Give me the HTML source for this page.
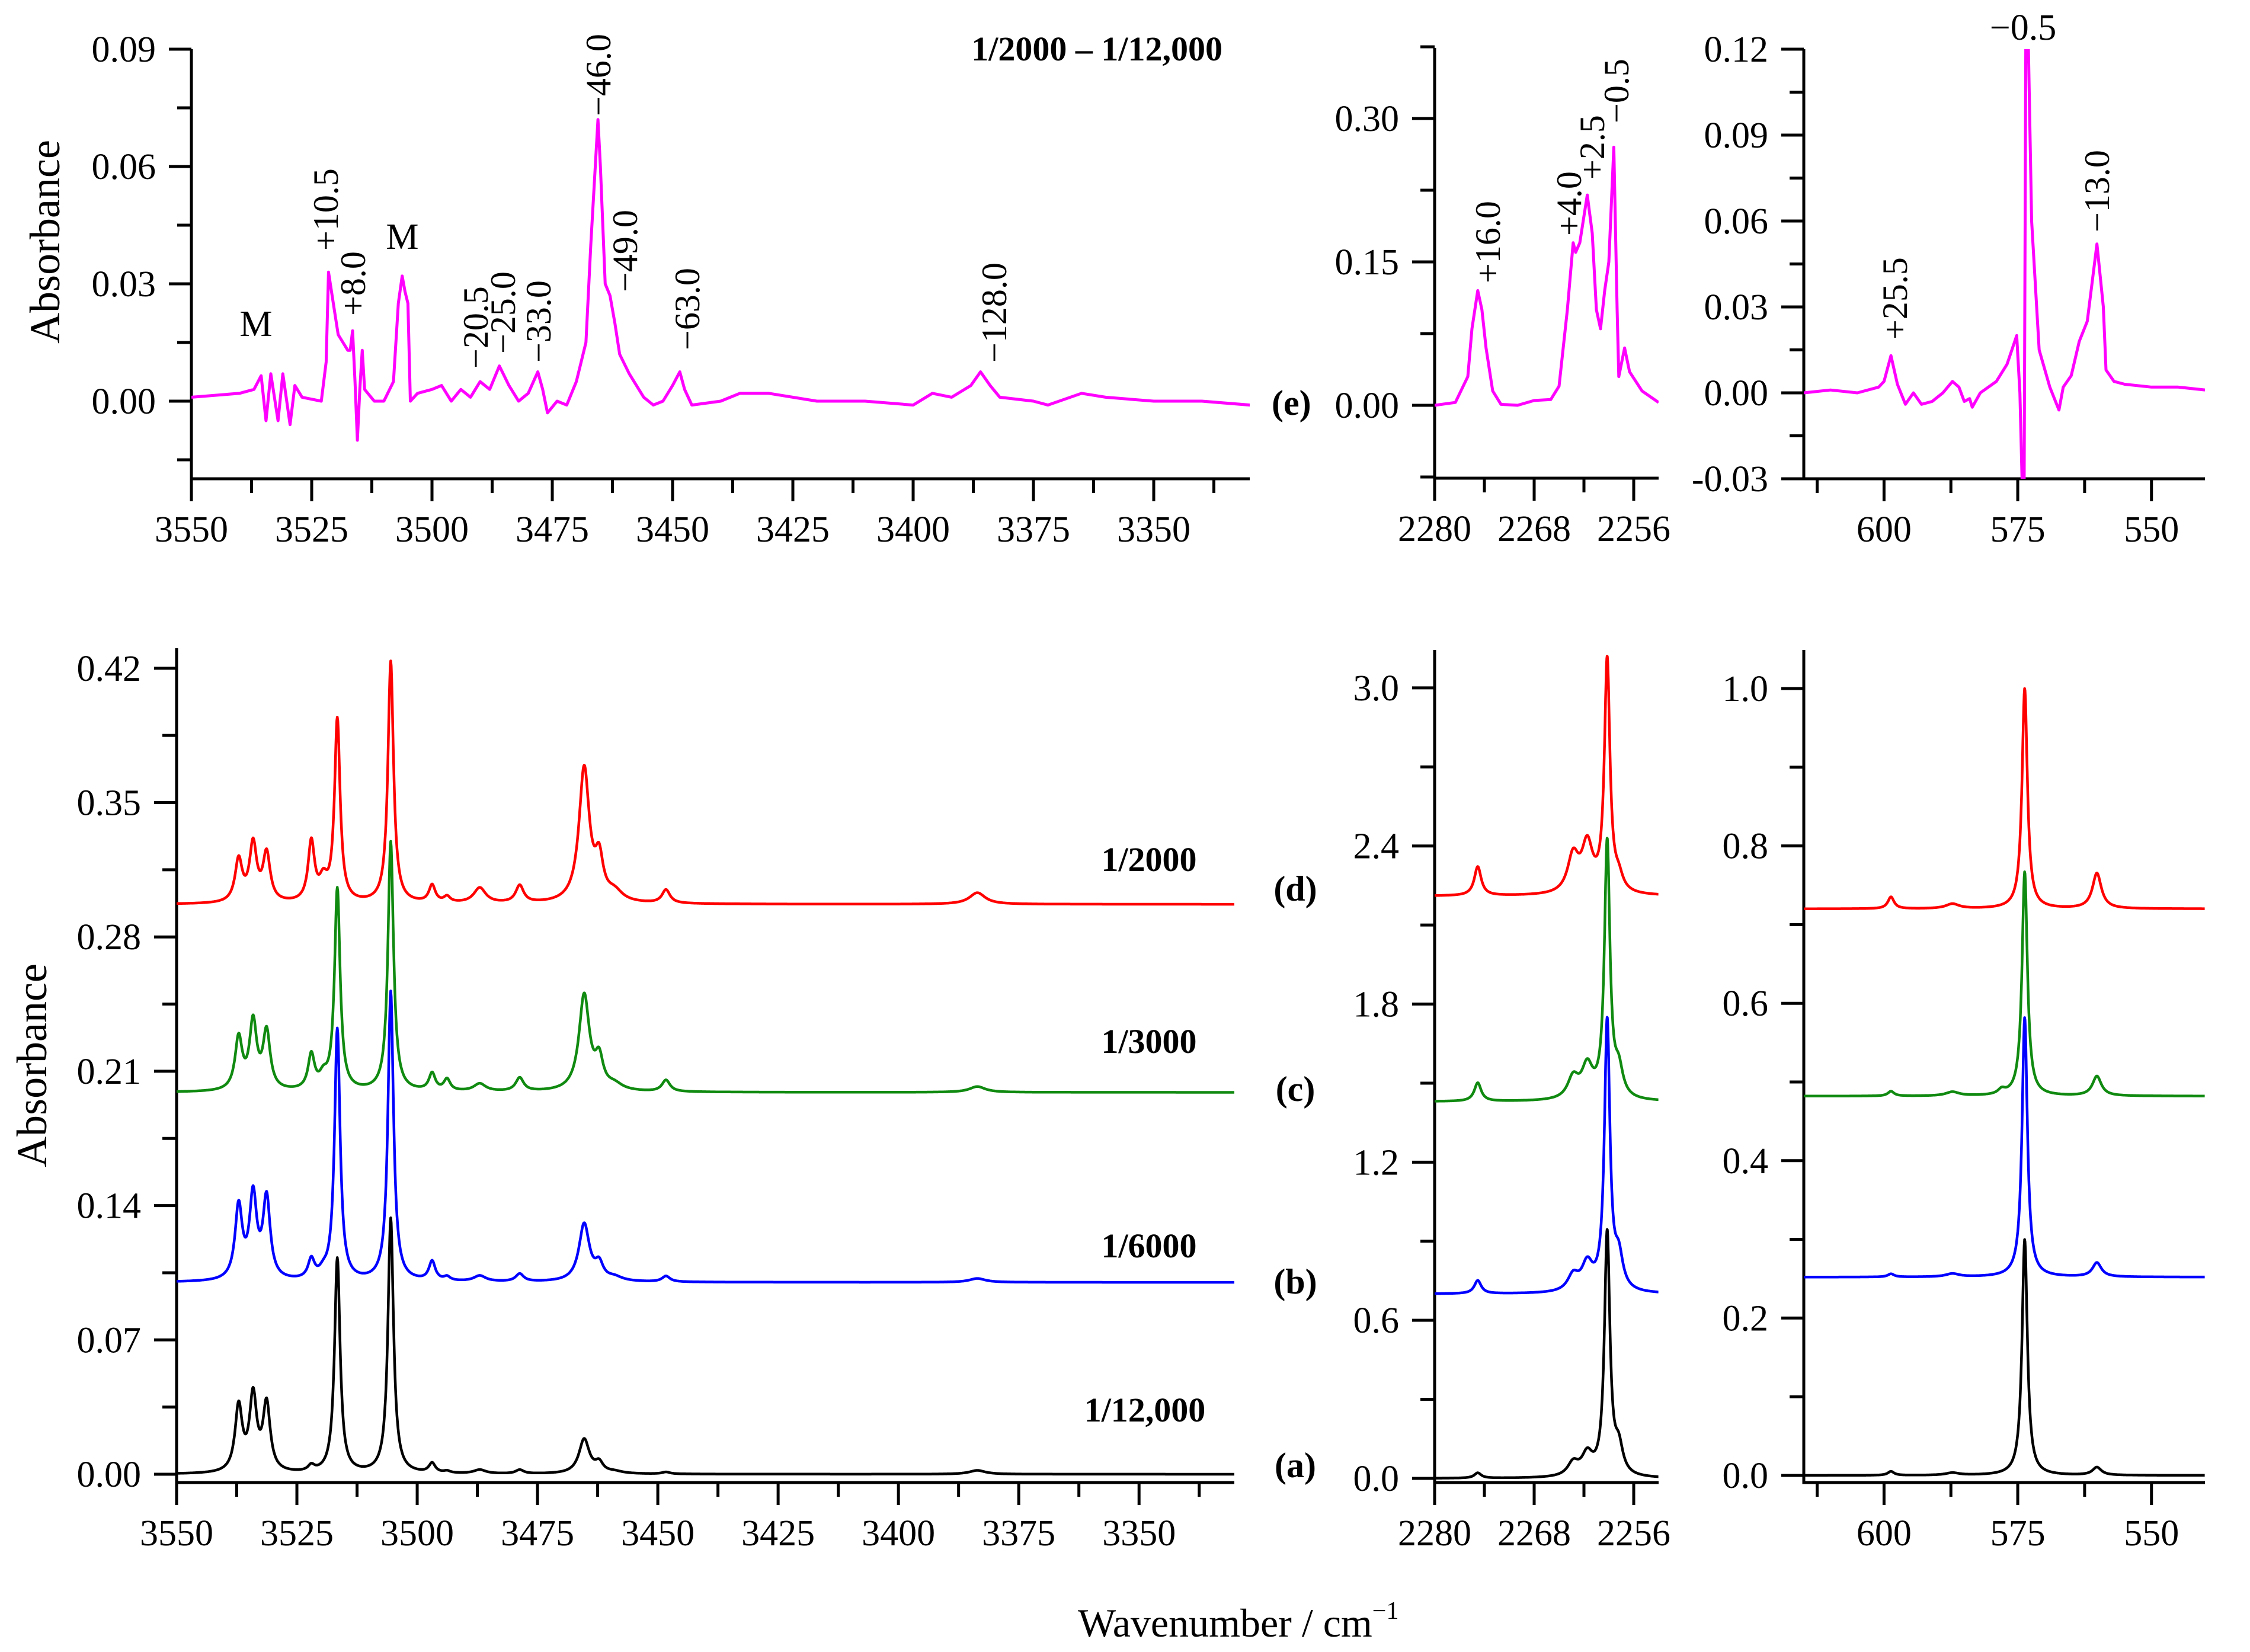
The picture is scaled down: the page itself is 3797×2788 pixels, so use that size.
<!DOCTYPE html>
<html><head><meta charset="utf-8"><style>
html,body{margin:0;padding:0;background:#fff;}
svg{display:block;font-family:"Liberation Serif",serif;}
</style></head><body>
<svg id="chart" width="3797" height="2788" viewBox="0 0 3797 2788" xmlns="http://www.w3.org/2000/svg">
<g id="static">
<text x="0" y="0" transform="translate(100,408) rotate(-90)" font-size="72" text-anchor="middle">Absorbance</text>
<text x="0" y="0" transform="translate(78,1798) rotate(-90)" font-size="72" text-anchor="middle">Absorbance</text>
<text x="1819" y="2762" font-size="68">Wavenumber / cm<tspan font-size="42" dy="-30">−1</tspan></text>
<text x="2063" y="102" font-size="58" font-weight="bold" text-anchor="end">1/2000 – 1/12,000</text>
<text x="2146" y="700" font-size="60" font-weight="bold">(e)</text>
<text x="2186" y="1520" font-size="60" font-weight="bold" text-anchor="middle">(d)</text>
<text x="2186" y="1858" font-size="60" font-weight="bold" text-anchor="middle">(c)</text>
<text x="2186" y="2183" font-size="60" font-weight="bold" text-anchor="middle">(b)</text>
<text x="2186" y="2493" font-size="60" font-weight="bold" text-anchor="middle">(a)</text>
<text x="1939" y="1470" font-size="58" font-weight="bold" text-anchor="middle">1/2000</text>
<text x="1939" y="1777" font-size="58" font-weight="bold" text-anchor="middle">1/3000</text>
<text x="1939" y="2122" font-size="58" font-weight="bold" text-anchor="middle">1/6000</text>
<text x="1932" y="2399" font-size="58" font-weight="bold" text-anchor="middle">1/12,000</text>
</g>
</svg>
<script>
// ---- Difference spectrum (e), traced points [wavenumber, absorbance] ----
const diffOH_x = [3550,3540,3537,3535.5,3534.5,3533.5,3532,3531,3529.5,3528.5,3527,3523,3522,3521.5,3520.5,3519.5,3518.5,3517.5,3517,3516.5,3516,3515.5,3515,3514.5,3514,3512,3510,3508,3507,3506.2,3505.6,3505,3504.5,3503,3500,3498,3496,3494,3492,3490,3488,3486,3484,3482,3480,3478,3477,3476,3474,3472,3470,3468,3467,3465.5,3465,3464,3463,3462,3461,3459,3456,3454,3452,3450,3448.5,3447.5,3446,3440,3436,3430,3420,3410,3400,3396,3392,3388,3386,3384,3382,3375,3372,3365,3360,3350,3340,3330];
const diffOH_y = [0.001,0.002,0.003,0.0065,-0.005,0.007,-0.005,0.007,-0.006,0.004,0.001,0.000,0.010,0.033,0.025,0.017,0.015,0.013,0.013,0.018,0.005,-0.010,0.003,0.013,0.003,0.000,0.000,0.005,0.025,0.032,0.028,0.025,0.000,0.002,0.003,0.004,0.000,0.003,0.001,0.005,0.003,0.009,0.004,0.000,0.002,0.0075,0.003,-0.003,0.000,-0.001,0.005,0.015,0.040,0.072,0.060,0.030,0.027,0.020,0.012,0.007,0.001,-0.001,0.000,0.004,0.0075,0.003,-0.001,0.000,0.002,0.002,0.000,0.000,-0.001,0.002,0.001,0.004,0.0075,0.004,0.001,0.000,-0.001,0.002,0.001,0.000,0.000,-0.001];
const diffCN_x = [2280,2277.5,2276,2275.5,2274.8,2274.3,2273.8,2273,2272,2270,2268,2266,2265,2264,2263.3,2263,2262.5,2261.6,2261,2260.5,2260,2259.5,2259,2258.4,2258,2257.8,2257.1,2256.5,2255,2253];
const diffCN_y = [0,0.003,0.03,0.08,0.12,0.10,0.06,0.015,0.001,0,0.005,0.006,0.02,0.10,0.17,0.16,0.17,0.22,0.18,0.10,0.08,0.12,0.15,0.27,0.10,0.03,0.06,0.035,0.015,0.003];
const diffLow_x = [615,610,605,601,600,598.7,597.5,596,594.5,593,591,589,587.2,586,585,584,583.5,582,579,577,575.2,574.6,574.2,573.8,573.5,573,572.4,571,569,567.3,566.5,565,563.5,562,560.2,559,558.5,557,555,550,545,540];
const diffLow_y = [0,0.001,0,0.002,0.004,0.013,0.003,-0.004,0,-0.004,-0.003,0,0.004,0.002,-0.003,-0.002,-0.005,0,0.004,0.010,0.020,0,-0.03,-0.03,0.12,0.12,0.06,0.015,0.002,-0.006,0.002,0.006,0.018,0.025,0.052,0.030,0.008,0.004,0.003,0.002,0.002,0.001];

// ---- Bottom spectra: peak tables ----
const ohPeaks = [3537.1,3534.1,3531.3,3522.0,3519.5,3516.6,3505.5,3496.9,3493.8,3487.0,3478.7,3465.3,3462.2,3459,3448.3,3383.6];
const ohHwhm  = [0.9,0.9,0.9,0.8,1.0,0.7,0.7,0.8,0.8,1.5,1.0,1.3,1.0,2.0,1.0,2.0];
const ohBlack = [0.034,0.039,0.035,0.003,0,0.112,0.133,0.005,0.001,0.002,0.002,0.018,0.005,0.001,0.001,0.002];
const ohBlue  = [0.038,0.043,0.042,0.010,0.003,0.131,0.151,0.010,0.002,0.003,0.004,0.030,0.008,0.002,0.003,0.002];
const ohGreen = [0.027,0.035,0.030,0.018,0.006,0.105,0.130,0.009,0.006,0.004,0.007,0.050,0.015,0.003,0.006,0.003];
const ohRed   = [0.022,0.030,0.025,0.031,0.010,0.095,0.126,0.009,0.003,0.008,0.009,0.070,0.020,0.005,0.007,0.006];
const ohBase  = [0, 0.10, 0.199, 0.297];

const cnPeaks = [2274.8,2263.3,2261.6,2259.2,2257.8];
const cnHwhm  = [0.5,0.8,0.8,0.4,0.6];
const cnBlack = [0.02,0.05,0.08,0.92,0.10];
const cnBlue  = [0.05,0.06,0.10,1.02,0.12];
const cnGreen = [0.07,0.08,0.12,0.97,0.10];
const cnRed   = [0.11,0.14,0.18,0.88,0.05];
const cnBase  = [0, 0.70, 1.43, 2.21];

const lowPeaks = [598.7,587.2,578,573.7,560.2];
const lowHwhm  = [0.7,1.5,0.8,0.6,1.0];
const lowBlack = [0.005,0.003,0.0,0.30,0.010];
const lowBlue  = [0.004,0.004,0.0,0.33,0.018];
const lowGreen = [0.006,0.005,0.006,0.285,0.025];
const lowRed   = [0.015,0.006,0.0,0.28,0.045];
const lowBase  = [0, 0.252, 0.482, 0.72];

const seriesColors = ['#000000','#0000ff','#108a10','#ff0000'];
const seriesNames = ['a-1-12000','b-1-6000','c-1-3000','d-1-2000'];

const NS = 'http://www.w3.org/2000/svg';
const svg = document.getElementById('chart');
function mk(tag, attrs, parent){
  const e = document.createElementNS(NS, tag);
  for (const k in attrs) e.setAttribute(k, attrs[k]);
  (parent||svg).appendChild(e);
  return e;
}

function makePanel(p){
  const g = mk('g', {});
  
  
  const sx = v => p.x0 + (v - p.xmin) / (p.xmax - p.xmin) * (p.x1 - p.x0);
  const sy = v => p.yZero - v * p.yScale;
  p.sx = sx; p.sy = sy; p.g = g;
  const clipId = 'clip-' + p.name;
  const cp = mk('clipPath', {id: clipId}, g);
  mk('rect', {x: p.x0, y: p.yTop, width: p.x1 - p.x0, height: p.yBot - p.yTop}, cp);
  p.clip = 'url(#' + clipId + ')';
  const ya = mk('line', {x1: p.x0, y1: p.yTop, x2: p.x0, y2: p.yBot + 2.5, stroke: '#000', 'stroke-width': 5}, g);
  
  
  const xa = mk('line', {x1: p.x0 - 2.5, y1: p.yBot, x2: p.x1, y2: p.yBot, stroke: '#000', 'stroke-width': 5}, g);
  
  
  p.yMajor.forEach((v, i) => {
    const y = sy(v);
    mk('line', {x1: p.x0 - 38, y1: y, x2: p.x0, y2: y, stroke: '#000', 'stroke-width': 5}, g);
    const t = mk('text', {x: p.x0 - 60, y: y + 21, 'font-size': 62, 'text-anchor': 'end'}, g);
    t.textContent = p.yLabels[i];
    
    
  });
  p.yMinor.forEach(v => {
    const y = sy(v);
    mk('line', {x1: p.x0 - 24, y1: y, x2: p.x0, y2: y, stroke: '#000', 'stroke-width': 5}, g);
  });
  p.xMajor.forEach((v, i) => {
    const x = sx(v);
    mk('line', {x1: x, y1: p.yBot, x2: x, y2: p.yBot + 38, stroke: '#000', 'stroke-width': 5}, g);
    const t = mk('text', {x: x, y: p.yBot + 106, 'font-size': 62, 'text-anchor': 'middle'}, g);
    t.textContent = p.xLabels[i];
    
    
  });
  p.xMinor.forEach(v => {
    const x = sx(v);
    mk('line', {x1: x, y1: p.yBot, x2: x, y2: p.yBot + 24, stroke: '#000', 'stroke-width': 5}, g);
  });
  return p;
}

function drawPoints(p, xs, ys, color, name){
  let d = '';
  for (let i = 0; i < xs.length; i++) d += (i ? 'L' : 'M') + p.sx(xs[i]).toFixed(1) + ',' + p.sy(ys[i]).toFixed(1);
  const path = mk('path', {d: d, fill: 'none', stroke: color, 'stroke-width': 5, 'stroke-linejoin': 'round', 'clip-path': p.clip}, p.g);
  
  
}

function drawPeaks(p, centers, hwhm, heights, base, color, name, step){
  let d = '';
  const lo = Math.min(p.xmin, p.xmax), hi = Math.max(p.xmin, p.xmax);
  let first = true;
  for (let w = hi; w >= lo; w -= step){
    let a = base;
    for (let k = 0; k < centers.length; k++){
      const q = (w - centers[k]) / hwhm[k];
      a += heights[k] / (1 + q * q);
    }
    d += (first ? 'M' : 'L') + p.sx(w).toFixed(1) + ',' + p.sy(a).toFixed(1);
    first = false;
  }
  const path = mk('path', {d: d, fill: 'none', stroke: color, 'stroke-width': 4.5, 'stroke-linejoin': 'round', 'clip-path': p.clip}, p.g);
  
  
}

function annot(txt, x, y, rotated, name){
  let t;
  if (rotated){
    t = mk('text', {x: 0, y: 0, transform: 'translate(' + x + ',' + y + ') rotate(-90)', 'font-size': 60, 'dominant-baseline': 'central'});
  } else {
    t = mk('text', {x: x, y: y, 'font-size': 62, 'text-anchor': 'middle'});
  }
  t.textContent = txt;
  
  
}

const TL = makePanel({name:'panel-e-oh', x0:323, x1:2109, xmin:3550, xmax:3330.05, yZero:677, yScale:198/0.03, yTop:83, yBot:808,
  yMajor:[0.09,0.06,0.03,0], yLabels:['0.09','0.06','0.03','0.00'], yMinor:[0.075,0.045,0.015,-0.015],
  xMajor:[3550,3525,3500,3475,3450,3425,3400,3375,3350], xLabels:['3550','3525','3500','3475','3450','3425','3400','3375','3350'],
  xMinor:[3537.5,3512.5,3487.5,3462.5,3437.5,3412.5,3387.5,3362.5,3337.5]});
const TM = makePanel({name:'panel-e-cn', x0:2421, x1:2799, xmin:2280, xmax:2253, yZero:684, yScale:242/0.15, yTop:81, yBot:807,
  yMajor:[0.30,0.15,0], yLabels:['0.30','0.15','0.00'], yMinor:[0.375,0.225,0.075,-0.075],
  xMajor:[2280,2268,2256], xLabels:['2280','2268','2256'], xMinor:[2274,2262]});
const TR = makePanel({name:'panel-e-low', x0:3044, x1:3721, xmin:615, xmax:540, yZero:663, yScale:145/0.03, yTop:83, yBot:808,
  yMajor:[0.12,0.09,0.06,0.03,0,-0.03], yLabels:['0.12','0.09','0.06','0.03','0.00','-0.03'], yMinor:[0.105,0.075,0.045,0.015,-0.015],
  xMajor:[600,575,550], xLabels:['600','575','550'], xMinor:[612.5,587.5,562.5]});
const BL = makePanel({name:'panel-oh', x0:298, x1:2083, xmin:3550, xmax:3330.2, yZero:2488, yScale:226.7/0.07, yTop:1094, yBot:2502,
  yMajor:[0.42,0.35,0.28,0.21,0.14,0.07,0], yLabels:['0.42','0.35','0.28','0.21','0.14','0.07','0.00'], yMinor:[0.385,0.315,0.245,0.175,0.105,0.035],
  xMajor:[3550,3525,3500,3475,3450,3425,3400,3375,3350], xLabels:['3550','3525','3500','3475','3450','3425','3400','3375','3350'],
  xMinor:[3537.5,3512.5,3487.5,3462.5,3437.5,3412.5,3387.5,3362.5,3337.5]});
const BM = makePanel({name:'panel-cn', x0:2421, x1:2799, xmin:2280, xmax:2253, yZero:2495, yScale:444.7, yTop:1097, yBot:2502,
  yMajor:[3.0,2.4,1.8,1.2,0.6,0], yLabels:['3.0','2.4','1.8','1.2','0.6','0.0'], yMinor:[2.7,2.1,1.5,0.9,0.3],
  xMajor:[2280,2268,2256], xLabels:['2280','2268','2256'], xMinor:[2274,2262]});
const BR = makePanel({name:'panel-low', x0:3044, x1:3721, xmin:615, xmax:540, yZero:2490, yScale:1328, yTop:1097, yBot:2502,
  yMajor:[1.0,0.8,0.6,0.4,0.2,0], yLabels:['1.0','0.8','0.6','0.4','0.2','0.0'], yMinor:[0.9,0.7,0.5,0.3,0.1],
  xMajor:[600,575,550], xLabels:['600','575','550'], xMinor:[612.5,587.5,562.5]});

drawPoints(TL, diffOH_x, diffOH_y, '#ff00ff', 'difference-trace-oh');
drawPoints(TM, diffCN_x, diffCN_y, '#ff00ff', 'difference-trace-cn');
drawPoints(TR, diffLow_x, diffLow_y, '#ff00ff', 'difference-trace-low');

const ohSets = [ohBlack, ohBlue, ohGreen, ohRed];
const cnSets = [cnBlack, cnBlue, cnGreen, cnRed];
const lowSets = [lowBlack, lowBlue, lowGreen, lowRed];
for (let s = 3; s >= 0; s--){
  drawPeaks(BL, ohPeaks, ohHwhm, ohSets[s], ohBase[s], seriesColors[s], 'trace-oh-' + seriesNames[s], 0.1);
  drawPeaks(BM, cnPeaks, cnHwhm, cnSets[s], cnBase[s], seriesColors[s], 'trace-cn-' + seriesNames[s], 0.03);
  drawPeaks(BR, lowPeaks, lowHwhm, lowSets[s], lowBase[s], seriesColors[s], 'trace-low-' + seriesNames[s], 0.08);
}

annot('M', 432, 567, false, 'annotation-m-1');
annot('+10.5', 550, 423, true, 'annotation-plus-10-5');
annot('+8.0', 596, 533, true, 'annotation-plus-8-0');
annot('M', 679, 420, false, 'annotation-m-2');
annot('−20.5', 803, 622, true, 'annotation-minus-20-5');
annot('−25.0', 849, 597, true, 'annotation-minus-25-0');
annot('−33.0', 909, 612, true, 'annotation-minus-33-0');
annot('−46.0', 1010, 196, true, 'annotation-minus-46-0');
annot('−49.0', 1055, 493, true, 'annotation-minus-49-0');
annot('−63.0', 1160, 591, true, 'annotation-minus-63-0');
annot('−128.0', 1678, 612, true, 'annotation-minus-128-0');
annot('+16.0', 2511, 478, true, 'annotation-plus-16-0');
annot('+4.0', 2648, 398, true, 'annotation-plus-4-0');
annot('+2.5', 2687, 303, true, 'annotation-plus-2-5');
annot('−0.5', 2728, 208, true, 'annotation-minus-0-5-cn');
annot('+25.5', 3198, 573, true, 'annotation-plus-25-5');
annot('−13.0', 3539, 392, true, 'annotation-minus-13-0');
annot('−0.5', 3414, 67, false, 'annotation-minus-0-5-low');
</script>
</body></html>
